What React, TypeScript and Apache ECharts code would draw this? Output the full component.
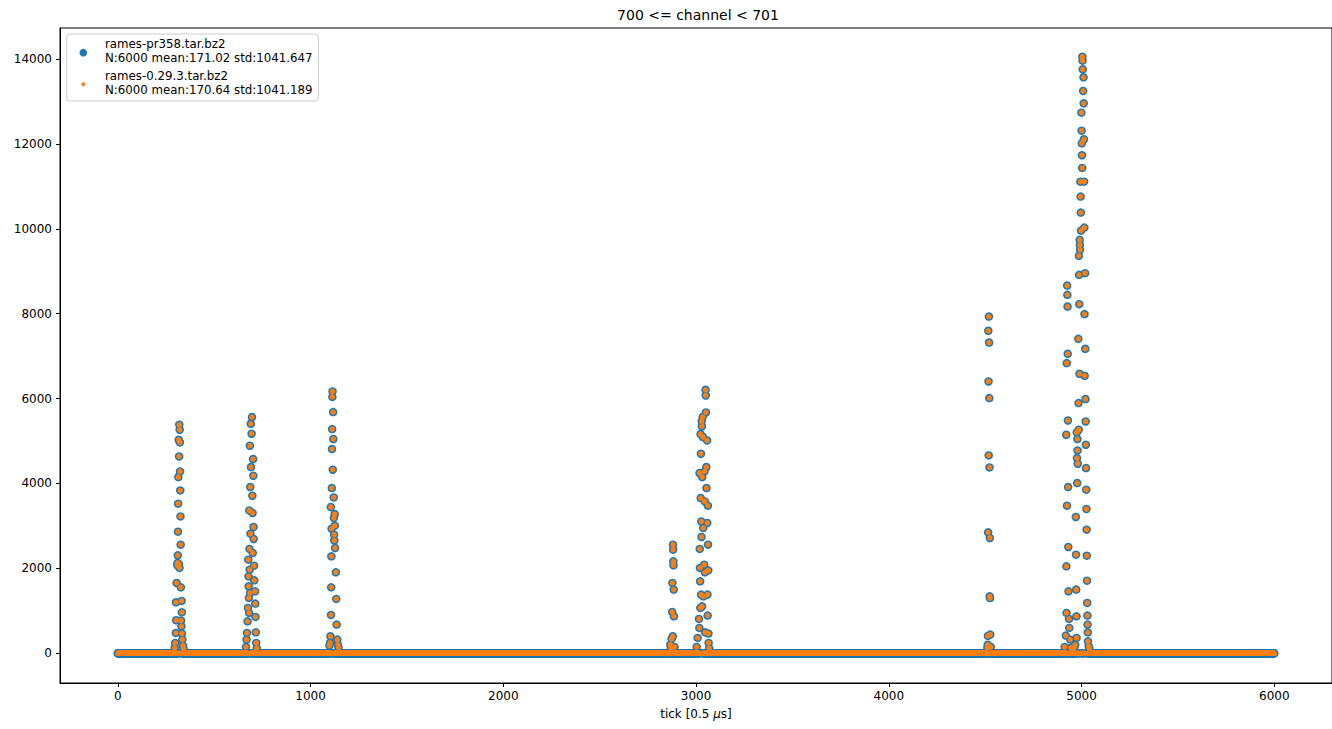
import React, { useEffect, useRef } from "react";
import * as echarts from "echarts";

const titleText = "700 <= channel < 701";
const xAxisName = "tick [0.5 {i|μ}s]";
const seriesNames = ["rames-pr358.tar.bz2", "rames-0.29.3.tar.bz2"];
const seriesStats = ["N:6000 mean:171.02 std:1041.647", "N:6000 mean:170.64 std:1041.189"];
const seriesColors = ["#1f77b4", "#ff7f0e"];
const sampleCount = 6000;
const xTicks = [0, 1000, 2000, 3000, 4000, 5000, 6000];
const yTicks = [0, 2000, 4000, 6000, 8000, 10000, 12000, 14000];
// every tick outside the pulses below reads 0 on the picture
const baselineValue = 0;

// [tick, value] readings of the non-zero samples, pulse by pulse
const pulse300: [number, number][] = [
  [295, 130], [298, 245], [301, 480], [302, 1201], [303, 777], [305, 1657], [309, 2070], [310, 2128],
  [311, 2307], [312, 2865], [313, 3524], [314, 4152], [316, 5030], [317, 2100], [318, 4638], [319, 5384],
  [320, 2011], [321, 5266], [322, 4967], [323, 4285], [324, 3837], [325, 3225], [326, 2559], [327, 1554],
  [328, 770], [330, 636], [331, 1234], [332, 965], [333, 464], [335, 322], [338, 180], [341, 110],
];
const pulse700: [number, number][] = [
  [665, 150], [668, 322], [670, 480], [673, 753], [675, 1069], [677, 2206], [678, 1813], [679, 1577],
  [680, 1304], [681, 951], [682, 3366], [683, 2458], [684, 1970], [685, 4889], [686, 1422], [687, 3917],
  [688, 2818], [690, 5407], [691, 4388], [694, 5172], [696, 5565], [698, 3712], [699, 3305], [700, 2363],
  [702, 4576], [703, 4183], [704, 2975], [705, 2693], [707, 2065], [708, 1718], [712, 1460], [713, 1170],
  [714, 857], [716, 494], [718, 245], [721, 120],
];
const pulse1100: [number, number][] = [
  [1098, 180], [1101, 245], [1103, 400], [1105, 3446], [1106, 904], [1107, 1554], [1108, 2283], [1109, 2935],
  [1110, 3893], [1111, 4812], [1112, 5282], [1113, 6040], [1114, 6168], [1115, 4324], [1117, 5682], [1118, 5047],
  [1120, 3672], [1121, 3187], [1122, 2794], [1123, 2660], [1125, 3281], [1126, 3006], [1127, 2481], [1131, 1907],
  [1133, 1281], [1135, 676], [1139, 322], [1142, 200], [1145, 130],
];
const pulse2880: [number, number][] = [
  [2866, 205], [2869, 127], [2873, 339], [2876, 975], [2877, 1657], [2879, 400], [2880, 2559], [2881, 2441],
  [2882, 2166], [2883, 2072], [2884, 1500], [2885, 871], [2888, 150],
];
const pulse3030: [number, number][] = [
  [3003, 150], [3008, 362], [3015, 810], [3017, 598], [3018, 4247], [3019, 2458], [3020, 2011], [3021, 1695],
  [3022, 1069], [3023, 5165], [3024, 3658], [3025, 4701], [3026, 1382], [3027, 3107], [3028, 2740], [3029, 5461],
  [3030, 5344], [3031, 1106], [3032, 4152], [3034, 5565], [3036, 5094], [3037, 2952], [3038, 1342], [3042, 2088],
  [3044, 4285], [3045, 3578], [3046, 1907], [3047, 494], [3049, 6208], [3050, 6074], [3051, 5673], [3053, 4388],
  [3054, 3893], [3057, 5014], [3058, 3070], [3059, 1382], [3060, 888], [3061, 3477], [3062, 2559], [3063, 1954],
  [3064, 464], [3065, 245], [3068, 120],
];
const pulse4520: [number, number][] = [
  [4511, 130], [4513, 200], [4514, 410], [4515, 2849], [4516, 7597], [4517, 6403], [4518, 4661], [4519, 7933],
  [4520, 7321], [4521, 6012], [4522, 4379], [4523, 1342], [4524, 2716], [4525, 1300], [4526, 440], [4529, 150],
];
const pulse5000: [number, number][] = [
  [4912, 150], [4918, 417], [4920, 5148], [4921, 2048], [4922, 951], [4923, 6836], [4924, 3477], [4925, 8663],
  [4926, 8444], [4927, 8169], [4928, 7055], [4929, 5485], [4930, 3917], [4931, 2505], [4932, 1460], [4935, 810],
  [4936, 598], [4941, 322], [4945, 130], [4950, 120], [4962, 140], [4967, 200], [4970, 3211], [4971, 2323],
  [4972, 1500], [4973, 871], [4974, 362], [4975, 5202], [4976, 4600], [4977, 4011], [4978, 5047], [4979, 4779],
  [4980, 4466], [4983, 7408], [4984, 5894], [4985, 5266], [4986, 9362], [4987, 8915], [4988, 8225], [4989, 6584],
  [4990, 9739], [4991, 9621], [4992, 9503], [4994, 11111], [4995, 10758], [4996, 10381], [4997, 9957], [4999, 12736],
  [5000, 12312], [5001, 12015], [5002, 11733], [5003, 11434], [5004, 14054], [5005, 13960], [5006, 13757], [5008, 13246],
  [5010, 13569], [5011, 12957], [5012, 12109], [5013, 11111], [5014, 10028], [5015, 7990], [5016, 6537], [5018, 8955],
  [5019, 7173], [5020, 5989], [5021, 5461], [5022, 4913], [5023, 4364], [5024, 3854], [5025, 3399], [5026, 2912],
  [5027, 2300], [5028, 1711], [5029, 1186], [5030, 888], [5031, 676], [5032, 494], [5033, 282], [5037, 160],
  [5040, 110],
];
const pulses = [pulse300, pulse700, pulse1100, pulse2880, pulse3030, pulse4520, pulse5000];

function buildSamples(): number[][] {
  const lookup = new Map<number, number>();
  pulses.forEach((p) => p.forEach(([t, v]) => lookup.set(t, v)));
  const out: number[][] = [];
  for (let t = 0; t < sampleCount; t++) {
    out.push([t, lookup.has(t) ? (lookup.get(t) as number) : baselineValue]);
  }
  return out;
}

const FONT = "DejaVu Sans";

export default function App() {
  const ref = useRef<HTMLDivElement>(null);
  useEffect(() => {
    if (!ref.current) return;
    const chart = echarts.init(ref.current, undefined, { renderer: "svg" });
    const samples = buildSamples();
    const legendFont = { fontFamily: FONT, fontSize: 11.8, fill: "#000", align: "left", verticalAlign: "middle" };
    chart.setOption({
      animation: false,
      backgroundColor: "#fff",
      textStyle: { fontFamily: FONT },
      title: {
        text: titleText,
        left: 698,
        top: 8,
        textAlign: "center",
        padding: 0,
        textStyle: { fontFamily: FONT, fontSize: 14, fontWeight: "normal", color: "#000" },
      },
      grid: {
        left: 60,
        top: 28,
        width: 1275,
        height: 655,
        show: true,
        borderColor: "#000",
        borderWidth: 1,
        backgroundColor: "transparent",
        containLabel: false,
      },
      graphic: [
        {
          type: "group",
          z: 10,
          silent: true,
          children: [
            {
              type: "rect",
              shape: { x: 66.7, y: 34, width: 251.6, height: 67, r: 3 },
              style: { fill: "rgba(255,255,255,0.8)", stroke: "#cccccc", lineWidth: 1 },
            },
            { type: "circle", shape: { cx: 83.3, cy: 52.7, r: 3.8 }, style: { fill: seriesColors[0] } },
            { type: "circle", shape: { cx: 83.3, cy: 84.3, r: 2 }, style: { fill: seriesColors[1] } },
            { type: "text", x: 105, y: 43.5, style: { ...legendFont, text: seriesNames[0] } },
            { type: "text", x: 105, y: 57.8, style: { ...legendFont, text: seriesStats[0] } },
            { type: "text", x: 105, y: 75.7, style: { ...legendFont, text: seriesNames[1] } },
            { type: "text", x: 105, y: 89.6, style: { ...legendFont, text: seriesStats[1] } },
          ],
        },
      ],
      xAxis: {
        type: "value",
        min: -300,
        max: 6299,
        name: xAxisName,
        nameLocation: "middle",
        nameGap: 25,
        nameTextStyle: {
          fontFamily: FONT,
          fontSize: 12,
          color: "#000",
          rich: { i: { fontFamily: FONT, fontSize: 12, fontStyle: "italic", color: "#000" } },
        },
        axisLine: { show: true, onZero: false, lineStyle: { color: "#000", width: 1 } },
        axisTick: { show: true, length: 4, lineStyle: { color: "#000", width: 1 }, customValues: xTicks },
        axisLabel: {
          customValues: xTicks,
          color: "#000",
          fontFamily: FONT,
          fontSize: 12,
          margin: 7,
          formatter: (v: number) => String(v),
        },
        splitLine: { show: false },
      },
      yAxis: {
        type: "value",
        min: -700,
        max: 14730,
        axisLine: { show: true, onZero: false, lineStyle: { color: "#000", width: 1 } },
        axisTick: { show: true, length: 4, lineStyle: { color: "#000", width: 1 }, customValues: yTicks },
        axisLabel: {
          customValues: yTicks,
          color: "#000",
          fontFamily: FONT,
          fontSize: 12,
          margin: 8,
          formatter: (v: number) => String(v),
        },
        splitLine: { show: false },
      },
      series: [
        {
          type: "scatter",
          name: seriesNames[0],
          data: samples,
          symbol: "circle",
          symbolSize: 8.5,
          itemStyle: { color: seriesColors[0], opacity: 1 },
          large: false,
          progressive: 0,
          silent: true,
          z: 2,
        },
        {
          type: "scatter",
          name: seriesNames[1],
          data: samples,
          symbol: "circle",
          symbolSize: 5.5,
          itemStyle: { color: seriesColors[1], opacity: 1 },
          large: false,
          progressive: 0,
          silent: true,
          z: 2,
        },
      ],
    });
    return () => chart.dispose();
  }, []);
  return (
    <div
      ref={ref}
      style={{ position: "fixed", left: 0, top: 0, width: 1332, height: 729, background: "#fff" }}
    />
  );
}
